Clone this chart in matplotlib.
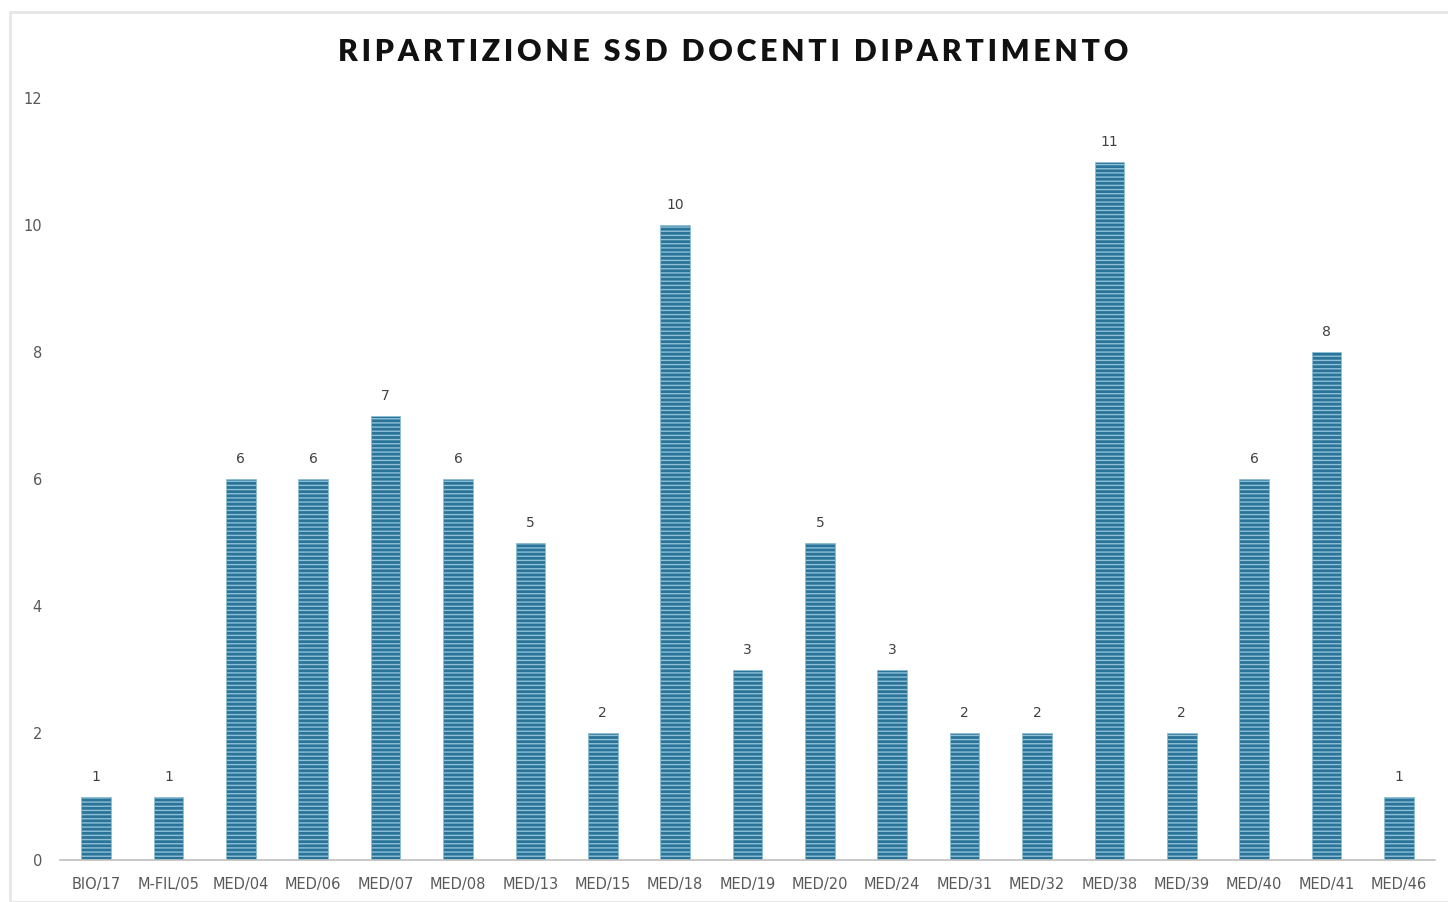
import matplotlib.pyplot as plt
from matplotlib.patches import Rectangle

categorie = ["BIO/17", "M-FIL/05", "MED/04", "MED/06", "MED/07", "MED/08", "MED/13",
             "MED/15", "MED/18", "MED/19", "MED/20", "MED/24", "MED/31", "MED/32",
             "MED/38", "MED/39", "MED/40", "MED/41", "MED/46"]
docenti = [1, 1, 6, 6, 7, 6, 5, 2, 10, 3, 5, 3, 2, 2, 11, 2, 6, 8, 1]
yticks = [0, 2, 4, 6, 8, 10, 12]

plt.rcParams['hatch.linewidth'] = 1.0
plt.rcParams['hatch.color'] = '#8fc0d6'

fig = plt.figure(figsize=(14.48, 9.02), dpi=100)
fig.patches.append(Rectangle((10 / 1448, 0), 1.2, 1 - 12 / 902, transform=fig.transFigure,
                             fill=False, edgecolor='#e6e6e6', linewidth=2))
ax = fig.add_axes([60 / 1448, 1 - 860 / 902, 1375 / 1448, 762 / 902])

x = list(range(len(categorie)))
bars = ax.bar(x, docenti, width=0.41, color='#2a7499', edgecolor='#8fc0d6',
              linewidth=0.6, hatch='----')
for xi, v in zip(x, docenti):
    ax.text(xi, v + 0.2, str(v), ha='center', va='bottom', fontsize=10, color='#404040')

ax.set_xlim(-0.5, len(categorie) - 0.5)
ax.set_ylim(0, 12)
ax.set_yticks(yticks)
ax.set_xticks(x)
ax.set_xticklabels(categorie)
ax.tick_params(axis='both', length=0, labelsize=10.5, labelcolor='#595959')
ax.tick_params(axis='y', pad=13)
ax.tick_params(axis='x', pad=12)
for s in ['top', 'right', 'left']:
    ax.spines[s].set_visible(False)
ax.spines['bottom'].set_color('#bfbfbf')
ax.spines['bottom'].set_linewidth(1.2)

titolo = "RIPARTIZIONE SSD DOCENTI DIPARTIMENTO"
fig.text(733 / 1448, 1 - 52 / 902, '\u2009'.join(titolo).replace('\u2009 \u2009', '  '),
         ha='center', va='center', fontsize=21.7, fontweight='heavy', family=['Lato', 'DejaVu Sans'],
         color='#111111')

fig.savefig("out.png", dpi=100)
